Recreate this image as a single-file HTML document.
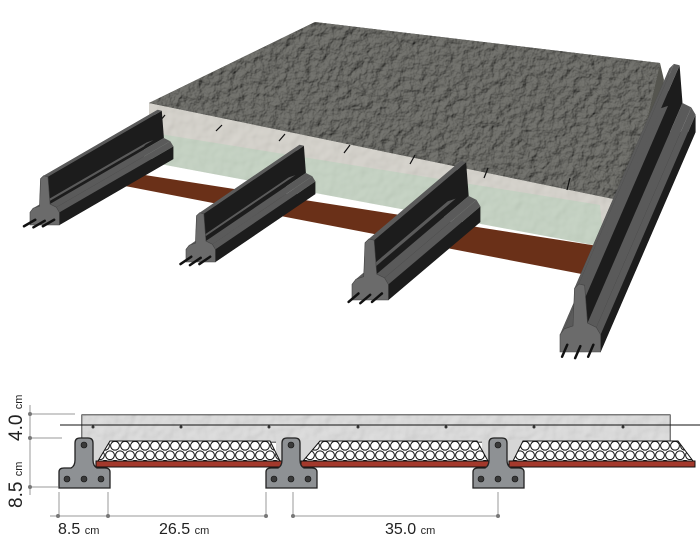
<!DOCTYPE html>
<html><head><meta charset="utf-8">
<style>
html,body{margin:0;padding:0;background:#fff;}
svg{display:block;}
text{font-family:"Liberation Sans",sans-serif;fill:#222;}
</style></head>
<body>
<svg id="s" width="700" height="539" viewBox="0 0 700 539" xmlns="http://www.w3.org/2000/svg">
<defs>
<filter id="tex" x="0" y="0" width="100%" height="100%">
<feTurbulence type="fractalNoise" baseFrequency="0.12" numOctaves="3" seed="3" result="n"/>
<feDiffuseLighting in="n" lighting-color="#74746f" surfaceScale="3" result="l"><feDistantLight azimuth="225" elevation="55"/></feDiffuseLighting>
<feComposite in="l" in2="SourceGraphic" operator="in"/>
</filter>
<filter id="tex2" x="0" y="0" width="100%" height="100%">
<feTurbulence type="fractalNoise" baseFrequency="0.08" numOctaves="2" seed="5" result="n"/>
<feDiffuseLighting in="n" lighting-color="#e4e4e4" surfaceScale="1.5" result="l"><feDistantLight azimuth="225" elevation="65"/></feDiffuseLighting>
<feComposite in="l" in2="SourceGraphic" operator="in"/>
</filter>
<pattern id="hex" width="10" height="19" patternUnits="userSpaceOnUse" x="0" y="441">
<rect width="10" height="19" fill="#fff"/>
<circle cx="5" cy="4.75" r="4.4" fill="#fff" stroke="#111" stroke-width="1"/>
<circle cx="0" cy="14.25" r="4.4" fill="#fff" stroke="#111" stroke-width="1"/>
<circle cx="10" cy="14.25" r="4.4" fill="#fff" stroke="#111" stroke-width="1"/>
</pattern>
</defs>

<!-- 3D slab -->
<polygon points="149,103 628,202 612,228 149,137" fill="#cbc6b9"/>
<polygon points="149,103 628,202 612,228 149,137" fill="#ccc" filter="url(#tex2)" opacity="0.5"/>
<polygon points="315,22 660,63 628,202 149,103" fill="#5f5f5c"/>
<polygon points="315,22 660,63 628,202 149,103" fill="#777" filter="url(#tex)"/>
<polygon points="660,63 664,80 632,214 628,202" fill="#55554f"/>
<g stroke="#111" stroke-width="1.2">
<line x1="165" y1="115" x2="160" y2="121"/><line x1="222" y1="125" x2="216" y2="131"/>
<line x1="285" y1="134" x2="279" y2="141"/><line x1="350" y1="145" x2="344" y2="153"/>
<line x1="415" y1="155" x2="410" y2="164"/><line x1="488" y1="168" x2="484" y2="178"/>
<line x1="570" y1="178" x2="567" y2="190"/>
</g>
<polygon points="135,130 600,205 604,247 128,158" fill="#b8ccb5"/>
<polygon points="135,130 600,205 604,247 128,158" fill="#ccc" filter="url(#tex2)" opacity="0.35"/>
<polygon points="100,168 598,246 592,276 104,182" fill="#6a3018"/>
<g id="beams"></g>

<!-- Cross-section -->
<g stroke="#999" stroke-width="1" fill="none">
<line x1="30" y1="405" x2="30" y2="495"/>
<line x1="30" y1="414" x2="75" y2="414"/>
<line x1="30" y1="438" x2="62" y2="438"/>
<line x1="30" y1="487" x2="58" y2="487"/>
<line x1="50" y1="516" x2="267" y2="516"/>
<line x1="293" y1="516" x2="498" y2="516"/>
<line x1="59" y1="492" x2="59" y2="516"/>
<line x1="108" y1="492" x2="108" y2="516"/>
<line x1="266" y1="492" x2="266" y2="516"/>
<line x1="293" y1="492" x2="293" y2="516"/>
<line x1="498" y1="492" x2="498" y2="516"/>
</g>
<g fill="#777">
<circle cx="30" cy="414" r="2"/><circle cx="30" cy="438" r="2"/><circle cx="30" cy="487" r="2"/>
<circle cx="58" cy="516" r="2"/><circle cx="108" cy="516" r="2"/><circle cx="266" cy="516" r="2"/>
<circle cx="293" cy="516" r="2"/><circle cx="498" cy="516" r="2"/>
</g>
<rect x="82" y="415" width="588" height="27" fill="#d6d6d6" stroke="#222" stroke-width="1.2"/>
<rect x="82" y="415" width="588" height="27" fill="#ddd" filter="url(#tex2)" opacity="0.6"/>
<rect x="75" y="440" width="40" height="27" fill="#d6d6d6"/>
<rect x="276" y="440" width="50" height="27" fill="#d6d6d6"/>
<rect x="482" y="440" width="42" height="27" fill="#d6d6d6"/>
<line x1="60" y1="425" x2="700" y2="425" stroke="#111" stroke-width="1"/>
<g fill="#333">
<circle cx="93" cy="427" r="1.5"/><circle cx="181" cy="427" r="1.5"/><circle cx="269" cy="427" r="1.5"/>
<circle cx="358" cy="427" r="1.5"/><circle cx="446" cy="427" r="1.5"/><circle cx="534" cy="427" r="1.5"/><circle cx="623" cy="427" r="1.5"/>
</g>
<g stroke="#111" stroke-width="1">
<polygon points="110,441 270,441 280,461 98,461" fill="url(#hex)"/>
<polygon points="320,441 477,441 488,461 303,461" fill="url(#hex)"/>
<polygon points="523,441 678,441 693,461 513,461" fill="url(#hex)"/>
<rect x="96" y="461" width="186" height="6" fill="#a3392c"/>
<rect x="301" y="461" width="189" height="6" fill="#a3392c"/>
<rect x="509" y="461" width="186" height="6" fill="#a3392c"/>
</g>
<g id="xs"></g>

<text x="0" y="0" transform="translate(22,441) rotate(-90)" font-size="19">4.0 <tspan font-size="11">cm</tspan></text>
<text x="0" y="0" transform="translate(22,508) rotate(-90)" font-size="19">8.5 <tspan font-size="11">cm</tspan></text>
<text x="58" y="534" font-size="16">8.5 <tspan font-size="11">cm</tspan></text>
<text x="159" y="534" font-size="16">26.5 <tspan font-size="11">cm</tspan></text>
<text x="385" y="534" font-size="16">35.0 <tspan font-size="11">cm</tspan></text>
</svg>
<script>
(function(){
var NS="http://www.w3.org/2000/svg";
function poly(g,pts,fill,stroke){var p=document.createElementNS(NS,"polygon");p.setAttribute("points",pts.map(function(q){return q[0].toFixed(1)+","+q[1].toFixed(1)}).join(" "));p.setAttribute("fill",fill);if(stroke){p.setAttribute("stroke",stroke);p.setAttribute("stroke-width","0.6");}g.appendChild(p);}
var prof=[[0,0],[0,-12],[3,-16],[9,-18],[10,-44],[13,-47],[17,-46],[19,-20],[25,-17],[28,-12],[28,0]];
var beams=[{f:[30,225],d:[114,-66],s:1.05},{f:[186,262],d:[100,-68],s:1.05},{f:[352,300],d:[92,-78],s:1.3},{f:[560,352],d:[95,-220],s:1.45}];
var g=document.getElementById("beams");
beams.forEach(function(b){
 var P=prof.map(function(p){return [b.f[0]+p[0]*b.s,b.f[1]+p[1]*b.s];});
 var quads=[];
 for(var i=0;i<P.length;i++){var a=P[i],c=P[(i+1)%P.length];var ex=c[0]-a[0],ey=c[1]-a[1];var L=Math.hypot(ex,ey)||1;var nx=ey/L,ny=-ex/L;
  quads.push({ny:ny,nx:nx,pts:[a,c,[c[0]+b.d[0],c[1]+b.d[1]],[a[0]+b.d[0],a[1]+b.d[1]]]});}
 quads.sort(function(x,y){return y.ny-x.ny;});
 quads.forEach(function(q){var col=q.ny<-0.5?"#5a5a5a":(q.nx<-0.5?"#2a2a2a":"#1c1c1c");poly(g,q.pts,col);});
 poly(g,P,"#6b6b6b","#444");
 var L=Math.hypot(b.d[0],b.d[1]);var ux=-b.d[0]/L*13,uy=-b.d[1]/L*13;
 [[5,-5],[14,-4],[23,-5]].forEach(function(r){var x=b.f[0]+r[0]*b.s,y=b.f[1]+r[1]*b.s;var l=document.createElementNS(NS,"line");l.setAttribute("x1",x);l.setAttribute("y1",y);l.setAttribute("x2",x+ux);l.setAttribute("y2",y+uy);l.setAttribute("stroke","#111");l.setAttribute("stroke-width","2.5");l.setAttribute("stroke-linecap","round");g.appendChild(l);});
});
var xs=document.getElementById("xs");
[0,207,414].forEach(function(o){
 var p=document.createElementNS(NS,"path");
 p.setAttribute("d","M"+(59+o)+",488 L"+(59+o)+",472 Q"+(59+o)+",468 "+(64+o)+",468 L"+(71+o)+",468 Q"+(75+o)+",466 "+(75+o)+",460 L"+(75+o)+",443 Q"+(75+o)+",438 "+(80+o)+",438 L"+(88+o)+",438 Q"+(93+o)+",438 "+(93+o)+",443 L"+(93+o)+",460 Q"+(93+o)+",466 "+(97+o)+",468 L"+(105+o)+",468 Q"+(110+o)+",468 "+(110+o)+",472 L"+(110+o)+",488 Z");
 p.setAttribute("fill","#8e9194");p.setAttribute("stroke","#222");p.setAttribute("stroke-width","1.3");xs.appendChild(p);
 [[84,445],[67,479],[84,479],[101,479]].forEach(function(c){var k=document.createElementNS(NS,"circle");k.setAttribute("cx",c[0]+o);k.setAttribute("cy",c[1]);k.setAttribute("r","3");k.setAttribute("fill","#3a3a3a");k.setAttribute("stroke","#111");k.setAttribute("stroke-width","0.6");xs.appendChild(k);});
});
})();
</script>
</body></html>
